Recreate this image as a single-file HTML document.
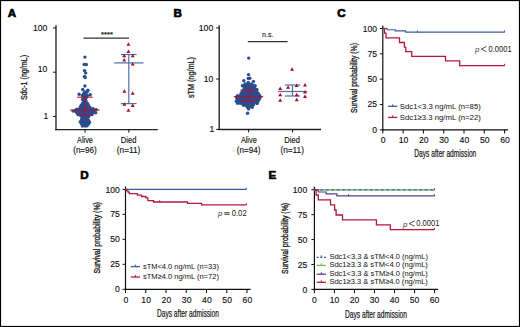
<!DOCTYPE html>
<html><head><meta charset="utf-8"><style>
html,body{margin:0;padding:0;background:#fff;width:520px;height:327px;overflow:hidden}
svg{display:block;font-family:"Liberation Sans", sans-serif}
</style></head><body>
<svg width="520" height="327" viewBox="0 0 520 327">
<rect width="520" height="327" fill="#fff"/>
<rect x="0.5" y="0.5" width="519" height="326" fill="none" stroke="#000" stroke-width="1.2"/>
<text x="7.8" y="17.0" font-size="11.6" font-weight="bold" fill="#000" stroke="#000" stroke-width="0.7" stroke-linejoin="round">A</text>
<text x="173.4" y="17.2" font-size="11.6" font-weight="bold" fill="#000" stroke="#000" stroke-width="0.7" stroke-linejoin="round">B</text>
<text x="337.2" y="17.4" font-size="11.6" font-weight="bold" fill="#000" stroke="#000" stroke-width="0.7" stroke-linejoin="round">C</text>
<text x="80.2" y="178.6" font-size="11.6" font-weight="bold" fill="#000" stroke="#000" stroke-width="0.7" stroke-linejoin="round">D</text>
<text x="268.5" y="178.6" font-size="11.6" font-weight="bold" fill="#000" stroke="#000" stroke-width="0.7" stroke-linejoin="round">E</text>
<line x1="56" y1="25.3" x2="56" y2="130.29999999999998" stroke="#222" stroke-width="1.35" />
<line x1="55.3" y1="129.6" x2="157.8" y2="129.6" stroke="#222" stroke-width="1.45" />
<line x1="53" y1="28" x2="56" y2="28" stroke="#111" stroke-width="1.0" />
<text x="47.4" y="30.7" font-size="8.6" text-anchor="end" fill="#111" font-weight="normal" stroke="#111" stroke-width="0.14" style="letter-spacing:0px;">100</text>
<line x1="53" y1="72.2" x2="56" y2="72.2" stroke="#111" stroke-width="1.0" />
<text x="47.4" y="71.9" font-size="8.6" text-anchor="end" fill="#111" font-weight="normal" stroke="#111" stroke-width="0.14" style="letter-spacing:0px;">10</text>
<line x1="53" y1="116.4" x2="56" y2="116.4" stroke="#111" stroke-width="1.0" />
<text x="48.4" y="119.10000000000001" font-size="8.6" text-anchor="end" fill="#111" font-weight="normal" stroke="#111" stroke-width="0.14" style="letter-spacing:0px;">1</text>
<line x1="85" y1="129.6" x2="85" y2="132.6" stroke="#111" stroke-width="1.0" />
<line x1="128.8" y1="129.6" x2="128.8" y2="132.6" stroke="#111" stroke-width="1.0" />
<text x="85" y="143.2" font-size="8.6" text-anchor="middle" fill="#111" font-weight="normal" stroke="#111" stroke-width="0.14" textLength="15.8" lengthAdjust="spacingAndGlyphs" style="letter-spacing:0px;">Alive</text>
<text x="85" y="153.2" font-size="8.6" text-anchor="middle" fill="#111" font-weight="normal" stroke="#111" stroke-width="0.14" textLength="23.6" lengthAdjust="spacingAndGlyphs" style="letter-spacing:0px;">(n=96)</text>
<text x="128.6" y="143.2" font-size="8.6" text-anchor="middle" fill="#111" font-weight="normal" stroke="#111" stroke-width="0.14" textLength="15.6" lengthAdjust="spacingAndGlyphs" style="letter-spacing:0px;">Died</text>
<text x="128.6" y="153.2" font-size="8.6" text-anchor="middle" fill="#111" font-weight="normal" stroke="#111" stroke-width="0.14" textLength="23.6" lengthAdjust="spacingAndGlyphs" style="letter-spacing:0px;">(n=11)</text>
<text x="26.6" y="77.5" font-size="8.4" text-anchor="middle" fill="#111" font-weight="normal" stroke="#111" stroke-width="0.25" textLength="45" lengthAdjust="spacingAndGlyphs" transform="rotate(-90 26.6 77.5)" style="letter-spacing:0px;">Sdc-1 (ng/mL)</text>
<line x1="83.5" y1="38.2" x2="129" y2="38.2" stroke="#333" stroke-width="1.25" />
<text x="107" y="37.4" font-size="7.6" text-anchor="middle" fill="#000" font-weight="normal" stroke="#000" stroke-width="0.14" style="letter-spacing:0px;">****</text>
<g fill="#2c4c8c"><circle cx="84.77" cy="91.83" r="1.7"/><circle cx="87.23" cy="91.86" r="1.7"/><circle cx="83.76" cy="93.44" r="1.7"/><circle cx="85.86" cy="93.90" r="1.7"/><circle cx="82.38" cy="95.44" r="1.7"/><circle cx="85.15" cy="95.58" r="1.7"/><circle cx="87.47" cy="95.59" r="1.7"/><circle cx="83.77" cy="97.29" r="1.7"/><circle cx="86.17" cy="97.72" r="1.7"/><circle cx="82.51" cy="99.54" r="1.7"/><circle cx="84.99" cy="99.14" r="1.7"/><circle cx="83.83" cy="101.35" r="1.7"/><circle cx="86.00" cy="101.02" r="1.7"/><circle cx="82.68" cy="103.18" r="1.7"/><circle cx="85.01" cy="103.43" r="1.7"/><circle cx="87.41" cy="103.45" r="1.7"/><circle cx="81.25" cy="105.28" r="1.7"/><circle cx="83.67" cy="105.36" r="1.7"/><circle cx="86.29" cy="104.86" r="1.7"/><circle cx="88.32" cy="104.93" r="1.7"/><circle cx="80.33" cy="106.96" r="1.7"/><circle cx="82.56" cy="106.88" r="1.7"/><circle cx="84.90" cy="106.93" r="1.7"/><circle cx="87.23" cy="107.05" r="1.7"/><circle cx="89.74" cy="107.24" r="1.7"/><circle cx="76.59" cy="109.16" r="1.7"/><circle cx="79.08" cy="109.19" r="1.7"/><circle cx="81.39" cy="108.70" r="1.7"/><circle cx="83.88" cy="109.18" r="1.7"/><circle cx="86.30" cy="108.94" r="1.7"/><circle cx="88.61" cy="108.73" r="1.7"/><circle cx="91.07" cy="108.94" r="1.7"/><circle cx="93.19" cy="108.64" r="1.7"/><circle cx="73.08" cy="111.09" r="1.7"/><circle cx="75.09" cy="110.98" r="1.7"/><circle cx="77.66" cy="110.59" r="1.7"/><circle cx="80.00" cy="110.96" r="1.7"/><circle cx="82.69" cy="110.53" r="1.7"/><circle cx="84.96" cy="110.53" r="1.7"/><circle cx="87.41" cy="110.70" r="1.7"/><circle cx="89.89" cy="111.09" r="1.7"/><circle cx="92.10" cy="111.10" r="1.7"/><circle cx="94.40" cy="110.55" r="1.7"/><circle cx="76.55" cy="112.42" r="1.7"/><circle cx="78.75" cy="112.64" r="1.7"/><circle cx="81.36" cy="112.49" r="1.7"/><circle cx="83.47" cy="112.92" r="1.7"/><circle cx="86.01" cy="112.98" r="1.7"/><circle cx="88.70" cy="112.63" r="1.7"/><circle cx="90.88" cy="112.71" r="1.7"/><circle cx="93.37" cy="112.76" r="1.7"/><circle cx="95.73" cy="112.77" r="1.7"/><circle cx="77.92" cy="114.60" r="1.7"/><circle cx="80.07" cy="114.73" r="1.7"/><circle cx="82.37" cy="114.48" r="1.7"/><circle cx="85.14" cy="114.61" r="1.7"/><circle cx="87.32" cy="114.31" r="1.7"/><circle cx="89.66" cy="114.65" r="1.7"/><circle cx="91.86" cy="114.67" r="1.7"/><circle cx="81.37" cy="116.24" r="1.7"/><circle cx="83.76" cy="116.48" r="1.7"/><circle cx="86.19" cy="116.41" r="1.7"/><circle cx="88.60" cy="116.64" r="1.7"/><circle cx="82.26" cy="118.14" r="1.7"/><circle cx="84.99" cy="118.68" r="1.7"/><circle cx="87.18" cy="118.37" r="1.7"/><circle cx="81.35" cy="120.19" r="1.7"/><circle cx="83.63" cy="120.19" r="1.7"/><circle cx="86.03" cy="120.36" r="1.7"/><circle cx="88.40" cy="120.23" r="1.7"/><circle cx="80.24" cy="121.92" r="1.7"/><circle cx="82.53" cy="122.34" r="1.7"/><circle cx="84.81" cy="122.03" r="1.7"/><circle cx="87.45" cy="122.04" r="1.7"/><circle cx="89.54" cy="122.16" r="1.7"/><circle cx="81.40" cy="123.86" r="1.7"/><circle cx="83.61" cy="124.00" r="1.7"/><circle cx="86.27" cy="124.06" r="1.7"/><circle cx="88.68" cy="123.90" r="1.7"/><circle cx="82.42" cy="126.09" r="1.7"/><circle cx="85.09" cy="125.97" r="1.7"/><circle cx="87.16" cy="125.77" r="1.7"/><circle cx="84.90" cy="57.10" r="1.7"/><circle cx="84.20" cy="64.50" r="1.7"/><circle cx="86.30" cy="64.50" r="1.7"/><circle cx="84.50" cy="70.60" r="1.7"/><circle cx="85.70" cy="72.90" r="1.7"/><circle cx="84.50" cy="76.40" r="1.7"/><circle cx="85.20" cy="77.50" r="1.7"/><circle cx="84.90" cy="86.00" r="1.7"/><circle cx="82.70" cy="89.50" r="1.7"/><circle cx="87.90" cy="90.30" r="1.7"/><circle cx="79.10" cy="94.30" r="1.7"/><circle cx="90.20" cy="94.70" r="1.7"/><circle cx="96.20" cy="109.60" r="1.7"/></g>
<line x1="84.9" y1="97.2" x2="84.9" y2="115.1" stroke="#a8153a" stroke-width="1.1" />
<line x1="77.10000000000001" y1="97.2" x2="92.7" y2="97.2" stroke="#a8153a" stroke-width="1.1" />
<line x1="77.10000000000001" y1="115.1" x2="92.7" y2="115.1" stroke="#a8153a" stroke-width="1.1" />
<line x1="70.2" y1="110.0" x2="99.60000000000001" y2="110.0" stroke="#a8153a" stroke-width="1.1" />
<line x1="128.8" y1="54.5" x2="128.8" y2="103.6" stroke="#4f6fa5" stroke-width="1.2" />
<line x1="121.00000000000001" y1="54.5" x2="136.60000000000002" y2="54.5" stroke="#4f6fa5" stroke-width="1.2" />
<line x1="121.00000000000001" y1="103.6" x2="136.60000000000002" y2="103.6" stroke="#4f6fa5" stroke-width="1.2" />
<line x1="114.20000000000002" y1="62.9" x2="143.4" y2="62.9" stroke="#4f6fa5" stroke-width="1.2" />
<path d="M126.40 45.64 L130.40 45.64 L128.40 42.16Z" fill="#a80f2f"/>
<path d="M126.40 52.94 L130.40 52.94 L128.40 49.46Z" fill="#a80f2f"/>
<path d="M122.20 57.14 L126.20 57.14 L124.20 53.66Z" fill="#a80f2f"/>
<path d="M130.70 57.14 L134.70 57.14 L132.70 53.66Z" fill="#a80f2f"/>
<path d="M122.20 61.54 L126.20 61.54 L124.20 58.06Z" fill="#a80f2f"/>
<path d="M130.70 65.44 L134.70 65.44 L132.70 61.96Z" fill="#a80f2f"/>
<path d="M122.40 92.84 L126.40 92.84 L124.40 89.36Z" fill="#a80f2f"/>
<path d="M130.70 94.64 L134.70 94.64 L132.70 91.16Z" fill="#a80f2f"/>
<path d="M122.40 105.74 L126.40 105.74 L124.40 102.26Z" fill="#a80f2f"/>
<path d="M130.70 106.94 L134.70 106.94 L132.70 103.46Z" fill="#a80f2f"/>
<path d="M126.40 111.74 L130.40 111.74 L128.40 108.26Z" fill="#a80f2f"/>
<line x1="219.2" y1="25.3" x2="219.2" y2="130.1" stroke="#222" stroke-width="1.35" />
<line x1="218.5" y1="129.4" x2="321" y2="129.4" stroke="#222" stroke-width="1.45" />
<line x1="216.2" y1="27.9" x2="219.2" y2="27.9" stroke="#111" stroke-width="1.0" />
<text x="213.2" y="30.599999999999998" font-size="8.6" text-anchor="end" fill="#111" font-weight="normal" stroke="#111" stroke-width="0.14" style="letter-spacing:0px;">100</text>
<line x1="216.2" y1="79" x2="219.2" y2="79" stroke="#111" stroke-width="1.0" />
<text x="213.2" y="81.7" font-size="8.6" text-anchor="end" fill="#111" font-weight="normal" stroke="#111" stroke-width="0.14" style="letter-spacing:0px;">10</text>
<line x1="216.2" y1="129.4" x2="219.2" y2="129.4" stroke="#111" stroke-width="1.0" />
<text x="214.2" y="132.1" font-size="8.6" text-anchor="end" fill="#111" font-weight="normal" stroke="#111" stroke-width="0.14" style="letter-spacing:0px;">1</text>
<line x1="248.6" y1="129.4" x2="248.6" y2="132.4" stroke="#111" stroke-width="1.0" />
<line x1="292.5" y1="129.4" x2="292.5" y2="132.4" stroke="#111" stroke-width="1.0" />
<text x="248.8" y="143.2" font-size="8.6" text-anchor="middle" fill="#111" font-weight="normal" stroke="#111" stroke-width="0.14" textLength="15.8" lengthAdjust="spacingAndGlyphs" style="letter-spacing:0px;">Alive</text>
<text x="248.6" y="153.2" font-size="8.6" text-anchor="middle" fill="#111" font-weight="normal" stroke="#111" stroke-width="0.14" textLength="23.6" lengthAdjust="spacingAndGlyphs" style="letter-spacing:0px;">(n=94)</text>
<text x="292.1" y="143.2" font-size="8.6" text-anchor="middle" fill="#111" font-weight="normal" stroke="#111" stroke-width="0.14" textLength="15.6" lengthAdjust="spacingAndGlyphs" style="letter-spacing:0px;">Died</text>
<text x="292.2" y="153.2" font-size="8.6" text-anchor="middle" fill="#111" font-weight="normal" stroke="#111" stroke-width="0.14" textLength="23.6" lengthAdjust="spacingAndGlyphs" style="letter-spacing:0px;">(n=11)</text>
<text x="194.1" y="77.6" font-size="8.4" text-anchor="middle" fill="#111" font-weight="normal" stroke="#111" stroke-width="0.25" textLength="41" lengthAdjust="spacingAndGlyphs" transform="rotate(-90 194.1 77.6)" style="letter-spacing:0px;">sTM (ng/mL)</text>
<line x1="247.8" y1="41.6" x2="287.6" y2="41.6" stroke="#333" stroke-width="1.15" />
<text x="267.8" y="36.7" font-size="8.0" text-anchor="middle" fill="#111" font-weight="normal" stroke="#111" stroke-width="0.1" textLength="11.4" lengthAdjust="spacingAndGlyphs" style="letter-spacing:0px;">n.s.</text>
<g fill="#2c4c8c"><circle cx="248.32" cy="82.51" r="1.7"/><circle cx="245.03" cy="84.05" r="1.7"/><circle cx="247.30" cy="84.17" r="1.7"/><circle cx="249.78" cy="84.37" r="1.7"/><circle cx="251.90" cy="83.92" r="1.7"/><circle cx="243.87" cy="86.06" r="1.7"/><circle cx="246.23" cy="85.80" r="1.7"/><circle cx="248.47" cy="86.23" r="1.7"/><circle cx="250.76" cy="86.37" r="1.7"/><circle cx="253.50" cy="85.82" r="1.7"/><circle cx="244.66" cy="88.02" r="1.7"/><circle cx="247.52" cy="87.93" r="1.7"/><circle cx="249.56" cy="87.95" r="1.7"/><circle cx="251.86" cy="87.83" r="1.7"/><circle cx="254.47" cy="88.00" r="1.7"/><circle cx="243.57" cy="89.74" r="1.7"/><circle cx="245.96" cy="89.88" r="1.7"/><circle cx="248.39" cy="89.61" r="1.7"/><circle cx="251.07" cy="89.93" r="1.7"/><circle cx="253.37" cy="89.71" r="1.7"/><circle cx="255.95" cy="90.12" r="1.7"/><circle cx="242.31" cy="91.70" r="1.7"/><circle cx="245.01" cy="91.93" r="1.7"/><circle cx="247.52" cy="91.75" r="1.7"/><circle cx="249.87" cy="91.90" r="1.7"/><circle cx="252.00" cy="91.85" r="1.7"/><circle cx="254.69" cy="92.01" r="1.7"/><circle cx="256.90" cy="91.85" r="1.7"/><circle cx="241.07" cy="93.55" r="1.7"/><circle cx="243.85" cy="93.65" r="1.7"/><circle cx="245.94" cy="93.73" r="1.7"/><circle cx="248.60" cy="93.80" r="1.7"/><circle cx="250.84" cy="93.66" r="1.7"/><circle cx="253.30" cy="93.87" r="1.7"/><circle cx="255.71" cy="93.64" r="1.7"/><circle cx="258.09" cy="93.42" r="1.7"/><circle cx="237.47" cy="95.72" r="1.7"/><circle cx="240.34" cy="95.66" r="1.7"/><circle cx="242.45" cy="95.40" r="1.7"/><circle cx="244.90" cy="95.89" r="1.7"/><circle cx="247.44" cy="95.62" r="1.7"/><circle cx="249.88" cy="95.44" r="1.7"/><circle cx="252.11" cy="95.87" r="1.7"/><circle cx="254.54" cy="95.58" r="1.7"/><circle cx="256.78" cy="95.63" r="1.7"/><circle cx="259.53" cy="95.30" r="1.7"/><circle cx="236.64" cy="97.69" r="1.7"/><circle cx="239.09" cy="97.64" r="1.7"/><circle cx="241.45" cy="97.51" r="1.7"/><circle cx="243.73" cy="97.46" r="1.7"/><circle cx="245.88" cy="97.72" r="1.7"/><circle cx="248.53" cy="97.32" r="1.7"/><circle cx="250.90" cy="97.49" r="1.7"/><circle cx="253.23" cy="97.41" r="1.7"/><circle cx="255.72" cy="97.57" r="1.7"/><circle cx="258.16" cy="97.47" r="1.7"/><circle cx="260.26" cy="97.34" r="1.7"/><circle cx="237.54" cy="99.45" r="1.7"/><circle cx="240.28" cy="99.58" r="1.7"/><circle cx="242.65" cy="99.59" r="1.7"/><circle cx="244.78" cy="99.61" r="1.7"/><circle cx="247.39" cy="99.15" r="1.7"/><circle cx="249.46" cy="99.11" r="1.7"/><circle cx="252.23" cy="99.25" r="1.7"/><circle cx="254.30" cy="99.47" r="1.7"/><circle cx="256.82" cy="99.14" r="1.7"/><circle cx="259.13" cy="99.42" r="1.7"/><circle cx="236.33" cy="101.16" r="1.7"/><circle cx="239.01" cy="101.27" r="1.7"/><circle cx="241.21" cy="101.28" r="1.7"/><circle cx="243.46" cy="101.23" r="1.7"/><circle cx="246.06" cy="101.11" r="1.7"/><circle cx="248.30" cy="101.54" r="1.7"/><circle cx="250.91" cy="101.13" r="1.7"/><circle cx="253.35" cy="101.49" r="1.7"/><circle cx="255.46" cy="101.01" r="1.7"/><circle cx="257.92" cy="101.43" r="1.7"/><circle cx="237.53" cy="103.32" r="1.7"/><circle cx="240.19" cy="103.23" r="1.7"/><circle cx="242.36" cy="103.49" r="1.7"/><circle cx="245.05" cy="103.21" r="1.7"/><circle cx="247.16" cy="103.29" r="1.7"/><circle cx="249.65" cy="103.25" r="1.7"/><circle cx="252.01" cy="103.28" r="1.7"/><circle cx="254.28" cy="103.08" r="1.7"/><circle cx="257.13" cy="103.43" r="1.7"/><circle cx="243.60" cy="105.32" r="1.7"/><circle cx="246.01" cy="105.36" r="1.7"/><circle cx="248.62" cy="105.05" r="1.7"/><circle cx="250.78" cy="104.81" r="1.7"/><circle cx="253.49" cy="104.82" r="1.7"/><circle cx="247.46" cy="107.28" r="1.7"/><circle cx="249.74" cy="106.80" r="1.7"/><circle cx="252.28" cy="107.28" r="1.7"/><circle cx="248.60" cy="108.91" r="1.7"/><circle cx="248.70" cy="58.10" r="1.7"/><circle cx="248.50" cy="74.60" r="1.7"/><circle cx="248.20" cy="78.40" r="1.7"/><circle cx="249.80" cy="78.20" r="1.7"/><circle cx="243.80" cy="80.80" r="1.7"/><circle cx="253.50" cy="81.40" r="1.7"/><circle cx="242.40" cy="85.80" r="1.7"/><circle cx="255.20" cy="85.80" r="1.7"/><circle cx="256.90" cy="89.50" r="1.7"/><circle cx="247.60" cy="113.30" r="1.7"/></g>
<line x1="248.5" y1="90.2" x2="248.5" y2="101.4" stroke="#a8153a" stroke-width="1.1" />
<line x1="240.3" y1="90.2" x2="256.7" y2="90.2" stroke="#a8153a" stroke-width="1.1" />
<line x1="240.3" y1="101.4" x2="256.7" y2="101.4" stroke="#a8153a" stroke-width="1.1" />
<line x1="233.75" y1="96.6" x2="263.25" y2="96.6" stroke="#a8153a" stroke-width="1.1" />
<line x1="292.5" y1="85" x2="292.5" y2="96" stroke="#4f6fa5" stroke-width="1.2" />
<line x1="284.9" y1="85" x2="300.1" y2="85" stroke="#4f6fa5" stroke-width="1.2" />
<line x1="284.9" y1="96" x2="300.1" y2="96" stroke="#4f6fa5" stroke-width="1.2" />
<line x1="277.9" y1="91.5" x2="307.1" y2="91.5" stroke="#4f6fa5" stroke-width="1.2" />
<path d="M290.10 70.64 L294.10 70.64 L292.10 67.16Z" fill="#a80f2f"/>
<path d="M286.10 88.84 L290.10 88.84 L288.10 85.36Z" fill="#a80f2f"/>
<path d="M294.70 86.94 L298.70 86.94 L296.70 83.46Z" fill="#a80f2f"/>
<path d="M303.00 86.44 L307.00 86.44 L305.00 82.96Z" fill="#a80f2f"/>
<path d="M278.20 90.04 L282.20 90.04 L280.20 86.56Z" fill="#a80f2f"/>
<path d="M278.20 96.14 L282.20 96.14 L280.20 92.66Z" fill="#a80f2f"/>
<path d="M278.20 101.64 L282.20 101.64 L280.20 98.16Z" fill="#a80f2f"/>
<path d="M294.70 96.14 L298.70 96.14 L296.70 92.66Z" fill="#a80f2f"/>
<path d="M294.70 101.14 L298.70 101.14 L296.70 97.66Z" fill="#a80f2f"/>
<path d="M303.00 93.44 L307.00 93.44 L305.00 89.96Z" fill="#a80f2f"/>
<path d="M303.00 97.94 L307.00 97.94 L305.00 94.46Z" fill="#a80f2f"/>
<line x1="382.8" y1="25.5" x2="382.8" y2="130.4" stroke="#111" stroke-width="1.2" />
<line x1="382.2" y1="129.8" x2="508" y2="129.8" stroke="#111" stroke-width="1.2" />
<line x1="379.8" y1="129.8" x2="382.8" y2="129.8" stroke="#111" stroke-width="1.0" />
<text x="377.0" y="132.8" font-size="8.6" text-anchor="end" fill="#111" font-weight="normal" stroke="#111" stroke-width="0.14" style="letter-spacing:0px;">0</text>
<line x1="379.8" y1="104.47500000000001" x2="382.8" y2="104.47500000000001" stroke="#111" stroke-width="1.0" />
<text x="377.0" y="107.47500000000001" font-size="8.6" text-anchor="end" fill="#111" font-weight="normal" stroke="#111" stroke-width="0.14" style="letter-spacing:0px;">25</text>
<line x1="379.8" y1="79.15" x2="382.8" y2="79.15" stroke="#111" stroke-width="1.0" />
<text x="377.0" y="82.15" font-size="8.6" text-anchor="end" fill="#111" font-weight="normal" stroke="#111" stroke-width="0.14" style="letter-spacing:0px;">50</text>
<line x1="379.8" y1="53.825" x2="382.8" y2="53.825" stroke="#111" stroke-width="1.0" />
<text x="377.0" y="56.825" font-size="8.6" text-anchor="end" fill="#111" font-weight="normal" stroke="#111" stroke-width="0.14" style="letter-spacing:0px;">75</text>
<line x1="379.8" y1="28.5" x2="382.8" y2="28.5" stroke="#111" stroke-width="1.0" />
<text x="377.0" y="31.5" font-size="8.6" text-anchor="end" fill="#111" font-weight="normal" stroke="#111" stroke-width="0.14" style="letter-spacing:0px;">100</text>
<line x1="382.8" y1="129.8" x2="382.8" y2="133.60000000000002" stroke="#111" stroke-width="1.05" />
<text x="383.2" y="143.3" font-size="8.6" text-anchor="middle" fill="#111" font-weight="normal" stroke="#111" stroke-width="0.14" style="letter-spacing:0px;">0</text>
<line x1="403.1" y1="129.8" x2="403.1" y2="133.60000000000002" stroke="#111" stroke-width="1.05" />
<text x="403.5" y="143.3" font-size="8.6" text-anchor="middle" fill="#111" font-weight="normal" stroke="#111" stroke-width="0.14" style="letter-spacing:0px;">10</text>
<line x1="423.40000000000003" y1="129.8" x2="423.40000000000003" y2="133.60000000000002" stroke="#111" stroke-width="1.05" />
<text x="423.8" y="143.3" font-size="8.6" text-anchor="middle" fill="#111" font-weight="normal" stroke="#111" stroke-width="0.14" style="letter-spacing:0px;">20</text>
<line x1="443.70000000000005" y1="129.8" x2="443.70000000000005" y2="133.60000000000002" stroke="#111" stroke-width="1.05" />
<text x="444.1" y="143.3" font-size="8.6" text-anchor="middle" fill="#111" font-weight="normal" stroke="#111" stroke-width="0.14" style="letter-spacing:0px;">30</text>
<line x1="464.0" y1="129.8" x2="464.0" y2="133.60000000000002" stroke="#111" stroke-width="1.05" />
<text x="464.4" y="143.3" font-size="8.6" text-anchor="middle" fill="#111" font-weight="normal" stroke="#111" stroke-width="0.14" style="letter-spacing:0px;">40</text>
<line x1="484.3" y1="129.8" x2="484.3" y2="133.60000000000002" stroke="#111" stroke-width="1.05" />
<text x="484.7" y="143.3" font-size="8.6" text-anchor="middle" fill="#111" font-weight="normal" stroke="#111" stroke-width="0.14" style="letter-spacing:0px;">50</text>
<line x1="504.6" y1="129.8" x2="504.6" y2="133.60000000000002" stroke="#111" stroke-width="1.05" />
<text x="505.0" y="143.3" font-size="8.6" text-anchor="middle" fill="#111" font-weight="normal" stroke="#111" stroke-width="0.14" style="letter-spacing:0px;">60</text>
<text x="357.4" y="78" font-size="9.8" text-anchor="middle" fill="#111" font-weight="normal" stroke="#111" stroke-width="0.32" textLength="70" lengthAdjust="spacingAndGlyphs" transform="rotate(-90 357.4 78)" style="letter-spacing:0px;">Survival probability (%)</text>
<text x="445.3" y="156.8" font-size="10.5" text-anchor="middle" fill="#111" font-weight="normal" stroke="#111" stroke-width="0.2" textLength="62" lengthAdjust="spacingAndGlyphs" style="letter-spacing:0px;">Days after admission</text>
<path d="M382.8 28.5 H387 V29.7 H395.2 V30.9 H405.6 V32.1 H504.6" fill="none" stroke="#3a5a9a" stroke-width="1.1"/>
<line x1="417.4" y1="32.5" x2="417.4" y2="30.3" stroke="#3a5a9a" stroke-width="0.9" />
<line x1="504.6" y1="32.5" x2="504.6" y2="30.3" stroke="#3a5a9a" stroke-width="0.9" />
<path d="M382.8 28.5 H384.5 V33.2 H386 V37.9 H399.5 V42.5 H404.4 V47.1 H405.8 V51.7 H411.7 V56.3 H445.5 V60.9 H459.7 V65.6 H504.6" fill="none" stroke="#b8173d" stroke-width="1.3"/>
<line x1="504.6" y1="66.0" x2="504.6" y2="63.8" stroke="#b8173d" stroke-width="0.9" />
<line x1="388.1" y1="106.3" x2="397.3" y2="106.3" stroke="#3a5a9a" stroke-width="1.3"/>
<line x1="392.70000000000005" y1="106.6" x2="392.70000000000005" y2="104.3" stroke="#3a5a9a" stroke-width="1.0" />
<text x="399.8" y="108.5" font-size="7.7" text-anchor="start" fill="#111" font-weight="normal" stroke="#111" stroke-width="0.02" textLength="81" lengthAdjust="spacingAndGlyphs" style="letter-spacing:0px;">Sdc1&lt;3.3 ng/mL (n=85)</text>
<line x1="388.1" y1="117.4" x2="397.3" y2="117.4" stroke="#b8173d" stroke-width="1.3"/>
<line x1="392.70000000000005" y1="117.7" x2="392.70000000000005" y2="115.4" stroke="#b8173d" stroke-width="1.0" />
<text x="399.8" y="120.0" font-size="7.7" text-anchor="start" fill="#111" font-weight="normal" stroke="#111" stroke-width="0.02" textLength="81" lengthAdjust="spacingAndGlyphs" style="letter-spacing:0px;">Sdc1≥3.3 ng/mL (n=22)</text>
<text x="475.0" y="51.8" font-size="7.8" font-style="italic" fill="#333">p</text>
<path d="M486.4 46.5 L481.3 49.1 L486.4 51.7" fill="none" stroke="#222" stroke-width="0.8"/>
<text x="488.5" y="51.599999999999994" font-size="8.2" fill="#1a1a1a" textLength="23.2" lengthAdjust="spacingAndGlyphs">0.0001</text>
<line x1="125.5" y1="186.4" x2="125.5" y2="289.90000000000003" stroke="#111" stroke-width="1.2" />
<line x1="124.9" y1="289.3" x2="250.6" y2="289.3" stroke="#111" stroke-width="1.2" />
<line x1="122.5" y1="289.3" x2="125.5" y2="289.3" stroke="#111" stroke-width="1.0" />
<text x="119.8" y="292.4" font-size="8.6" text-anchor="end" fill="#111" font-weight="normal" stroke="#111" stroke-width="0.14" style="letter-spacing:0px;">0</text>
<line x1="122.5" y1="264.325" x2="125.5" y2="264.325" stroke="#111" stroke-width="1.0" />
<text x="119.8" y="267.42499999999995" font-size="8.6" text-anchor="end" fill="#111" font-weight="normal" stroke="#111" stroke-width="0.14" style="letter-spacing:0px;">25</text>
<line x1="122.5" y1="239.35000000000002" x2="125.5" y2="239.35000000000002" stroke="#111" stroke-width="1.0" />
<text x="119.8" y="242.45000000000002" font-size="8.6" text-anchor="end" fill="#111" font-weight="normal" stroke="#111" stroke-width="0.14" style="letter-spacing:0px;">50</text>
<line x1="122.5" y1="214.375" x2="125.5" y2="214.375" stroke="#111" stroke-width="1.0" />
<text x="119.8" y="217.475" font-size="8.6" text-anchor="end" fill="#111" font-weight="normal" stroke="#111" stroke-width="0.14" style="letter-spacing:0px;">75</text>
<line x1="122.5" y1="189.4" x2="125.5" y2="189.4" stroke="#111" stroke-width="1.0" />
<text x="119.8" y="192.5" font-size="8.6" text-anchor="end" fill="#111" font-weight="normal" stroke="#111" stroke-width="0.14" style="letter-spacing:0px;">100</text>
<line x1="125.5" y1="289.3" x2="125.5" y2="293.1" stroke="#111" stroke-width="1.05" />
<text x="125.9" y="302.8" font-size="8.6" text-anchor="middle" fill="#111" font-weight="normal" stroke="#111" stroke-width="0.14" style="letter-spacing:0px;">0</text>
<line x1="145.75" y1="289.3" x2="145.75" y2="293.1" stroke="#111" stroke-width="1.05" />
<text x="146.15" y="302.8" font-size="8.6" text-anchor="middle" fill="#111" font-weight="normal" stroke="#111" stroke-width="0.14" style="letter-spacing:0px;">10</text>
<line x1="166.0" y1="289.3" x2="166.0" y2="293.1" stroke="#111" stroke-width="1.05" />
<text x="166.4" y="302.8" font-size="8.6" text-anchor="middle" fill="#111" font-weight="normal" stroke="#111" stroke-width="0.14" style="letter-spacing:0px;">20</text>
<line x1="186.25" y1="289.3" x2="186.25" y2="293.1" stroke="#111" stroke-width="1.05" />
<text x="186.65" y="302.8" font-size="8.6" text-anchor="middle" fill="#111" font-weight="normal" stroke="#111" stroke-width="0.14" style="letter-spacing:0px;">30</text>
<line x1="206.5" y1="289.3" x2="206.5" y2="293.1" stroke="#111" stroke-width="1.05" />
<text x="206.9" y="302.8" font-size="8.6" text-anchor="middle" fill="#111" font-weight="normal" stroke="#111" stroke-width="0.14" style="letter-spacing:0px;">40</text>
<line x1="226.75" y1="289.3" x2="226.75" y2="293.1" stroke="#111" stroke-width="1.05" />
<text x="227.15" y="302.8" font-size="8.6" text-anchor="middle" fill="#111" font-weight="normal" stroke="#111" stroke-width="0.14" style="letter-spacing:0px;">50</text>
<line x1="247.0" y1="289.3" x2="247.0" y2="293.1" stroke="#111" stroke-width="1.05" />
<text x="247.4" y="302.8" font-size="8.6" text-anchor="middle" fill="#111" font-weight="normal" stroke="#111" stroke-width="0.14" style="letter-spacing:0px;">60</text>
<text x="99.8" y="237.8" font-size="9.8" text-anchor="middle" fill="#111" font-weight="normal" stroke="#111" stroke-width="0.32" textLength="71.5" lengthAdjust="spacingAndGlyphs" transform="rotate(-90 99.8 237.8)" style="letter-spacing:0px;">Survival probability (%)</text>
<text x="187.9" y="316.6" font-size="10.5" text-anchor="middle" fill="#111" font-weight="normal" stroke="#111" stroke-width="0.2" textLength="62" lengthAdjust="spacingAndGlyphs" style="letter-spacing:0px;">Days after admission</text>
<path d="M125.5 189.4 H246.3" fill="none" stroke="#3a5a9a" stroke-width="1.1"/>
<line x1="246.3" y1="189.8" x2="246.3" y2="187.6" stroke="#3a5a9a" stroke-width="0.9" />
<path d="M125.5 189.4 H126.8 V190.8 H128.0 V192.2 H129.3 V193.7 H137.4 V195.1 H141.6 V196.5 H145.9 V197.9 H147.8 V199.3 H147.9 V200.6 H153.6 V202.0 H187.5 V203.4 H201.6 V204.8 H246.3" fill="none" stroke="#b8173d" stroke-width="1.3"/>
<line x1="159.7" y1="202.4" x2="159.7" y2="200.2" stroke="#b8173d" stroke-width="0.9" />
<line x1="246.3" y1="205.20000000000002" x2="246.3" y2="203.0" stroke="#b8173d" stroke-width="0.9" />
<line x1="130.8" y1="266.6" x2="140.0" y2="266.6" stroke="#3a5a9a" stroke-width="1.3"/>
<line x1="135.4" y1="266.90000000000003" x2="135.4" y2="264.6" stroke="#3a5a9a" stroke-width="1.0" />
<text x="142.9" y="268.8" font-size="7.7" text-anchor="start" fill="#111" font-weight="normal" stroke="#111" stroke-width="0.02" textLength="76" lengthAdjust="spacingAndGlyphs" style="letter-spacing:0px;">sTM&lt;4.0 ng/mL (n=33)</text>
<line x1="130.8" y1="277.0" x2="140.0" y2="277.0" stroke="#b8173d" stroke-width="1.3"/>
<line x1="135.4" y1="277.3" x2="135.4" y2="275.0" stroke="#b8173d" stroke-width="1.0" />
<text x="142.9" y="278.9" font-size="7.7" text-anchor="start" fill="#111" font-weight="normal" stroke="#111" stroke-width="0.02" textLength="76" lengthAdjust="spacingAndGlyphs" style="letter-spacing:0px;">sTM≥4.0 ng/mL (n=72)</text>
<text x="217.9" y="216.2" font-size="7.8" font-style="italic" fill="#333">p</text>
<line x1="224.3" y1="212.7" x2="229.6" y2="212.7" stroke="#222" stroke-width="0.9" />
<line x1="224.3" y1="214.3" x2="229.6" y2="214.3" stroke="#222" stroke-width="0.9" />
<text x="231.7" y="216.0" font-size="8.2" fill="#1a1a1a" textLength="15.0" lengthAdjust="spacingAndGlyphs">0.02</text>
<line x1="314.4" y1="186.7" x2="314.4" y2="290.0" stroke="#111" stroke-width="1.2" />
<line x1="313.79999999999995" y1="289.4" x2="438.0" y2="289.4" stroke="#111" stroke-width="1.2" />
<line x1="311.4" y1="289.4" x2="314.4" y2="289.4" stroke="#111" stroke-width="1.0" />
<text x="307.2" y="292.49999999999994" font-size="8.6" text-anchor="end" fill="#111" font-weight="normal" stroke="#111" stroke-width="0.14" style="letter-spacing:0px;">0</text>
<line x1="311.4" y1="264.47499999999997" x2="314.4" y2="264.47499999999997" stroke="#111" stroke-width="1.0" />
<text x="307.2" y="267.57499999999993" font-size="8.6" text-anchor="end" fill="#111" font-weight="normal" stroke="#111" stroke-width="0.14" style="letter-spacing:0px;">25</text>
<line x1="311.4" y1="239.54999999999998" x2="314.4" y2="239.54999999999998" stroke="#111" stroke-width="1.0" />
<text x="307.2" y="242.64999999999998" font-size="8.6" text-anchor="end" fill="#111" font-weight="normal" stroke="#111" stroke-width="0.14" style="letter-spacing:0px;">50</text>
<line x1="311.4" y1="214.625" x2="314.4" y2="214.625" stroke="#111" stroke-width="1.0" />
<text x="307.2" y="217.725" font-size="8.6" text-anchor="end" fill="#111" font-weight="normal" stroke="#111" stroke-width="0.14" style="letter-spacing:0px;">75</text>
<line x1="311.4" y1="189.7" x2="314.4" y2="189.7" stroke="#111" stroke-width="1.0" />
<text x="307.2" y="192.79999999999998" font-size="8.6" text-anchor="end" fill="#111" font-weight="normal" stroke="#111" stroke-width="0.14" style="letter-spacing:0px;">100</text>
<line x1="314.4" y1="289.4" x2="314.4" y2="293.2" stroke="#111" stroke-width="1.05" />
<text x="314.4" y="303.4" font-size="8.6" text-anchor="middle" fill="#111" font-weight="normal" stroke="#111" stroke-width="0.14" style="letter-spacing:0px;">0</text>
<line x1="334.42999999999995" y1="289.4" x2="334.42999999999995" y2="293.2" stroke="#111" stroke-width="1.05" />
<text x="334.42999999999995" y="303.4" font-size="8.6" text-anchor="middle" fill="#111" font-weight="normal" stroke="#111" stroke-width="0.14" style="letter-spacing:0px;">10</text>
<line x1="354.46" y1="289.4" x2="354.46" y2="293.2" stroke="#111" stroke-width="1.05" />
<text x="354.46" y="303.4" font-size="8.6" text-anchor="middle" fill="#111" font-weight="normal" stroke="#111" stroke-width="0.14" style="letter-spacing:0px;">20</text>
<line x1="374.49" y1="289.4" x2="374.49" y2="293.2" stroke="#111" stroke-width="1.05" />
<text x="374.49" y="303.4" font-size="8.6" text-anchor="middle" fill="#111" font-weight="normal" stroke="#111" stroke-width="0.14" style="letter-spacing:0px;">30</text>
<line x1="394.52" y1="289.4" x2="394.52" y2="293.2" stroke="#111" stroke-width="1.05" />
<text x="394.52" y="303.4" font-size="8.6" text-anchor="middle" fill="#111" font-weight="normal" stroke="#111" stroke-width="0.14" style="letter-spacing:0px;">40</text>
<line x1="414.54999999999995" y1="289.4" x2="414.54999999999995" y2="293.2" stroke="#111" stroke-width="1.05" />
<text x="414.54999999999995" y="303.4" font-size="8.6" text-anchor="middle" fill="#111" font-weight="normal" stroke="#111" stroke-width="0.14" style="letter-spacing:0px;">50</text>
<line x1="434.58" y1="289.4" x2="434.58" y2="293.2" stroke="#111" stroke-width="1.05" />
<text x="434.58" y="303.4" font-size="8.6" text-anchor="middle" fill="#111" font-weight="normal" stroke="#111" stroke-width="0.14" style="letter-spacing:0px;">60</text>
<text x="288.2" y="238.4" font-size="9.8" text-anchor="middle" fill="#111" font-weight="normal" stroke="#111" stroke-width="0.32" textLength="71.2" lengthAdjust="spacingAndGlyphs" transform="rotate(-90 288.2 238.4)" style="letter-spacing:0px;">Survival probability (%)</text>
<text x="376" y="317.6" font-size="10.5" text-anchor="middle" fill="#111" font-weight="normal" stroke="#111" stroke-width="0.2" textLength="62" lengthAdjust="spacingAndGlyphs" style="letter-spacing:0px;">Days after admission</text>
<path d="M314.4 189.9 H434.4" fill="none" stroke="#70bc4a" stroke-width="1.3"/>
<line x1="434.4" y1="190.3" x2="434.4" y2="188.1" stroke="#70bc4a" stroke-width="0.9" />
<path d="M314.4 189.9 H434.4" fill="none" stroke="#4a6aa8" stroke-width="1.3" stroke-dasharray="3.6 1.9"/>
<line x1="434.4" y1="190.3" x2="434.4" y2="188.1" stroke="#4a6aa8" stroke-width="0.9" />
<path d="M314.4 189.9 H318.3 V192.0 H326.2 V193.8 H336.9 V195.9 H434.4" fill="none" stroke="#5e3b8c" stroke-width="1.2"/>
<line x1="348.5" y1="196.3" x2="348.5" y2="194.1" stroke="#5e3b8c" stroke-width="0.9" />
<line x1="434.4" y1="196.3" x2="434.4" y2="194.1" stroke="#5e3b8c" stroke-width="0.9" />
<path d="M314.4 189.7 H316.1 V195.0 H318.3 V199.8 H330.5 V204.9 H334.6 V210.0 H336.1 V215.0 H342.5 V219.9 H376.4 V224.8 H390.3 V229.6 H434.4" fill="none" stroke="#b8173d" stroke-width="1.3"/>
<line x1="434.4" y1="230.0" x2="434.4" y2="227.79999999999998" stroke="#b8173d" stroke-width="0.9" />
<line x1="316.7" y1="257.3" x2="325.9" y2="257.3" stroke="#3a5a9a" stroke-width="1.3" stroke-dasharray="2 1.6"/>
<line x1="321.3" y1="257.6" x2="321.3" y2="255.3" stroke="#3a5a9a" stroke-width="1.0" />
<text x="329.4" y="259.2" font-size="7.7" text-anchor="start" fill="#111" font-weight="normal" stroke="#111" stroke-width="0.02" textLength="98.5" lengthAdjust="spacingAndGlyphs" style="letter-spacing:0px;">Sdc1&lt;3.3 &amp; sTM&lt;4.0 (ng/mL)</text>
<line x1="316.7" y1="265.4" x2="325.9" y2="265.4" stroke="#70bc4a" stroke-width="1.3"/>
<line x1="321.3" y1="265.7" x2="321.3" y2="263.4" stroke="#70bc4a" stroke-width="1.0" />
<text x="329.4" y="267.3" font-size="7.7" text-anchor="start" fill="#111" font-weight="normal" stroke="#111" stroke-width="0.02" textLength="98.5" lengthAdjust="spacingAndGlyphs" style="letter-spacing:0px;">Sdc1≥3.3 &amp; sTM&lt;4.0 (ng/mL)</text>
<line x1="316.7" y1="274.2" x2="325.9" y2="274.2" stroke="#5e3b8c" stroke-width="1.3"/>
<line x1="321.3" y1="274.5" x2="321.3" y2="272.2" stroke="#5e3b8c" stroke-width="1.0" />
<text x="329.4" y="275.6" font-size="7.7" text-anchor="start" fill="#111" font-weight="normal" stroke="#111" stroke-width="0.02" textLength="98.5" lengthAdjust="spacingAndGlyphs" style="letter-spacing:0px;">Sdc1&lt;3.3 &amp; sTM≥4.0 (ng/mL)</text>
<line x1="316.7" y1="282.3" x2="325.9" y2="282.3" stroke="#b8173d" stroke-width="1.3"/>
<line x1="321.3" y1="282.6" x2="321.3" y2="280.3" stroke="#b8173d" stroke-width="1.0" />
<text x="329.4" y="283.7" font-size="7.7" text-anchor="start" fill="#111" font-weight="normal" stroke="#111" stroke-width="0.02" textLength="98.5" lengthAdjust="spacingAndGlyphs" style="letter-spacing:0px;">Sdc1≥3.3 &amp; sTM≥4.0 (ng/mL)</text>
<text x="403.0" y="226.5" font-size="7.8" font-style="italic" fill="#333">p</text>
<path d="M414.7 220.9 L409.1 223.55 L414.7 226.2" fill="none" stroke="#222" stroke-width="0.8"/>
<text x="416.3" y="226.3" font-size="8.2" fill="#1a1a1a" textLength="23.2" lengthAdjust="spacingAndGlyphs">0.0001</text>
</svg></body></html>
